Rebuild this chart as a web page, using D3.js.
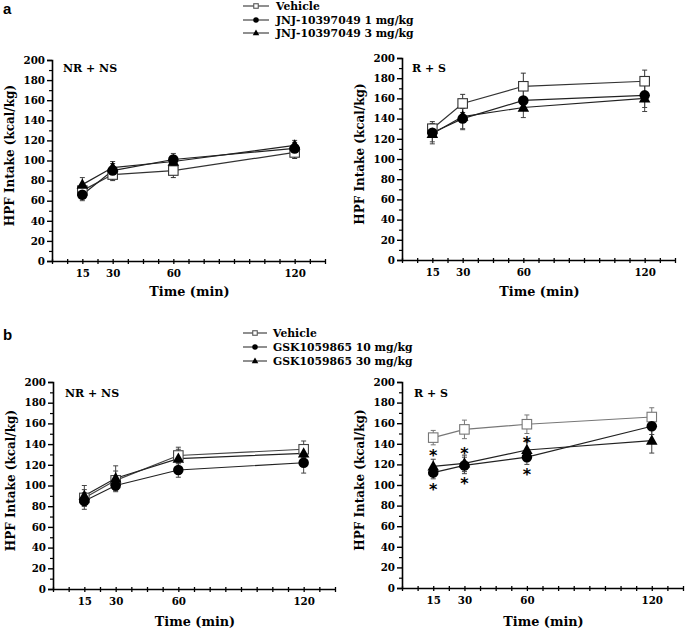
<!DOCTYPE html>
<html><head><meta charset="utf-8">
<script src="https://cdn.jsdelivr.net/npm/d3@7"></script>
<style>body{margin:0;background:#fff}svg{display:block}</style>
</head><body>
<svg id="chart" width="685" height="631"></svg>
<script>
// ---------- data ----------
const times = [15, 30, 60, 120];
const xTickLabels = [15, 30, 60, 120];
const yTicks = [0, 20, 40, 60, 80, 100, 120, 140, 160, 180, 200];

const legendA = ["Vehicle", "JNJ-10397049 1 mg/kg", "JNJ-10397049 3 mg/kg"];
const legendB = ["Vehicle", "GSK1059865 10 mg/kg", "GSK1059865 30 mg/kg"];

// panel a, NR + NS
const aNR_vehicle = [70, 86, 90, 108];
const aNR_vehicleErr = [6, 6, 7, 6];
const aNR_low = [66, 90, 101, 112];
const aNR_lowErr = [6, 7, 6, 6];
const aNR_high = [76, 93, 99, 115];
const aNR_highErr = [7, 6, 6, 5];

// panel a, R + S
const aRS_vehicle = [130, 155, 172, 177];
const aRS_vehicleErr = [7, 9, 13, 11];
const aRS_low = [126, 140, 158, 163];
const aRS_lowErr = [9, 10, 10, 12];
const aRS_high = [125, 142, 151, 160];
const aRS_highErr = [10, 13, 10, 13];

// panel b, NR + NS
const bNR_vehicle = [88, 105, 129, 135];
const bNR_vehicleErr = [8, 9, 8, 8];
const bNR_low = [85, 100, 115, 122];
const bNR_lowErr = [8, 6, 7, 10];
const bNR_high = [90, 107, 126, 131];
const bNR_highErr = [10, 12, 9, 8];

// panel b, R + S
const bRS_vehicle = [146, 154, 159, 166];
const bRS_vehicleErr = [7, 9, 9, 9];
const bRS_low = [112, 119, 127, 157];
const bRS_lowErr = [6, 8, 7, 8];
const bRS_high = [118, 121, 134, 143];
const bRS_highErr = [7, 8, 8, 12];

// significance stars (time, value)
const bRS_starTimes = [15, 15, 30, 30, 60, 60];
const bRS_starValues = [132, 99, 134, 105, 145, 114];

// ---------- drawing ----------
const svg = d3.select("#chart");
const serif = "'DejaVu Serif', serif";

const panels = [
  {x0: 52, x1: 325, yTop: 60, yBot: 261, title: "NR + NS", tx: 63, ty: 72, xlabY: 296,
   series: [[aNR_vehicle, aNR_vehicleErr], [aNR_low, aNR_lowErr], [aNR_high, aNR_highErr]], vehColor: "#333"},
  {x0: 402, x1: 675, yTop: 58, yBot: 260, title: "R + S", tx: 412, ty: 72, xlabY: 296,
   series: [[aRS_vehicle, aRS_vehicleErr], [aRS_low, aRS_lowErr], [aRS_high, aRS_highErr]], vehColor: "#333"},
  {x0: 53, x1: 335, yTop: 382, yBot: 589, title: "NR + NS", tx: 65, ty: 397, xlabY: 626,
   series: [[bNR_vehicle, bNR_vehicleErr], [bNR_low, bNR_lowErr], [bNR_high, bNR_highErr]], vehColor: "#444"},
  {x0: 402, x1: 683, yTop: 382, yBot: 588, title: "R + S", tx: 414, ty: 397, xlabY: 626,
   series: [[bRS_vehicle, bRS_vehicleErr], [bRS_low, bRS_lowErr], [bRS_high, bRS_highErr]], vehColor: "#777",
   stars: true}
];

const markerKinds = ["square", "circle", "triangle"];

function drawMarker(g, kind, cx, cy, size, stroke) {
  if (kind === "square") {
    g.append("rect").attr("x", cx - size/2).attr("y", cy - size/2)
      .attr("width", size).attr("height", size)
      .attr("fill", "#fff").attr("stroke", stroke).attr("stroke-width", 1.1);
  } else if (kind === "circle") {
    g.append("circle").attr("cx", cx).attr("cy", cy).attr("r", size/2 + 0.5).attr("fill", "#000");
  } else {
    const s = size + 2;
    const h = s * 0.9;
    g.append("path").attr("d", `M${cx},${cy - h*0.6}L${cx + s/2},${cy + h*0.4}L${cx - s/2},${cy + h*0.4}Z`)
      .attr("fill", "#000");
  }
}

panels.forEach(p => {
  const g = svg.append("g");
  const x = d3.scaleLinear().domain([0, 135]).range([p.x0, p.x1]);
  const y = d3.scaleLinear().domain([0, 200]).range([p.yBot, p.yTop]);

  // y axis
  const yAx = d3.axisLeft(y).tickValues(yTicks).tickSize(5).tickPadding(2);
  const yg = g.append("g").attr("transform", `translate(${p.x0},0)`).call(yAx);
  yg.select(".domain").attr("stroke", "#000").attr("stroke-width", 1.6);
  yg.selectAll(".tick line").attr("stroke", "#000").attr("stroke-width", 1.4);
  yg.selectAll("text").attr("font-family", serif).attr("font-weight", "bold").attr("font-size", 10.3).attr("fill", "#000");
  const yMinor = d3.axisLeft(y).tickValues(d3.range(10, 200, 20)).tickSize(3).tickFormat("");
  const ym = g.append("g").attr("transform", `translate(${p.x0},0)`).call(yMinor);
  ym.select(".domain").remove();
  ym.selectAll(".tick line").attr("stroke", "#000").attr("stroke-width", 1.2);

  // x axis
  const xAx = d3.axisBottom(x).tickValues(xTickLabels).tickSize(0).tickPadding(9);
  const xg = g.append("g").attr("transform", `translate(0,${p.yBot})`).call(xAx);
  xg.select(".domain").attr("stroke", "#000").attr("stroke-width", 1.6);
  xg.selectAll("text").attr("font-family", serif).attr("font-weight", "bold").attr("font-size", 10.3).attr("fill", "#000");
  const xMinor = d3.axisBottom(x).tickValues(d3.range(0, 135.1, 7.5)).tickSize(3).tickFormat("");
  const xm = g.append("g").attr("transform", `translate(0,${p.yBot - 2})`).call(xMinor);
  xm.select(".domain").remove();
  xm.selectAll(".tick line").attr("stroke", "#000").attr("stroke-width", 1.3).attr("y2", 5);

  // axis titles
  g.append("text").attr("x", (p.x0 + p.x1) / 2 + 1).attr("y", p.xlabY)
    .attr("text-anchor", "middle").attr("font-family", serif).attr("font-weight", "bold")
    .attr("font-size", 12.8).text("Time (min)");
  g.append("text").attr("transform", `translate(${p.x0 - 38},${(p.yTop + p.yBot) / 2 - 5}) rotate(-90)`)
    .attr("text-anchor", "middle").attr("font-family", serif).attr("font-weight", "bold")
    .attr("font-size", 12).text("HPF Intake (kcal/kg)");
  g.append("text").attr("x", p.tx).attr("y", p.ty).attr("font-family", serif).attr("font-weight", "bold")
    .attr("font-size", 11).text(p.title);

  const line = d3.line().x((d, i) => x(times[i])).y(d => y(d));

  // lines
  p.series.forEach((s, k) => {
    g.append("path").attr("d", line(s[0])).attr("fill", "none")
      .attr("stroke", k === 0 ? p.vehColor : "#222").attr("stroke-width", 1.2);
  });
  // error bars
  p.series.forEach((s, k) => {
    const col = k === 0 ? p.vehColor : "#444";
    s[0].forEach((v, i) => {
      const cx = x(times[i]);
      const e = s[1][i];
      g.append("line").attr("x1", cx).attr("x2", cx).attr("y1", y(v - e)).attr("y2", y(v + e))
        .attr("stroke", col).attr("stroke-width", 1);
      [v - e, v + e].forEach(b => {
        g.append("line").attr("x1", cx - 2.5).attr("x2", cx + 2.5).attr("y1", y(b)).attr("y2", y(b))
          .attr("stroke", col).attr("stroke-width", 1);
      });
    });
  });
  // markers
  p.series.forEach((s, k) => {
    s[0].forEach((v, i) => {
      drawMarker(g, markerKinds[k], x(times[i]), y(v), 9.5, k === 0 ? p.vehColor : "#000");
    });
  });

  if (p.stars) {
    bRS_starTimes.forEach((t, i) => {
      g.append("text").attr("x", x(t)).attr("y", y(bRS_starValues[i]) + 9)
        .attr("text-anchor", "middle").attr("font-family", "'DejaVu Sans', sans-serif")
        .attr("font-weight", "bold").attr("font-size", 16).text("*");
    });
  }
});

// legends
function legend(labels, lx0, lx1, tx, ys) {
  const g = svg.append("g");
  labels.forEach((lab, k) => {
    const yy = ys[k];
    g.append("line").attr("x1", lx0).attr("x2", lx1).attr("y1", yy).attr("y2", yy)
      .attr("stroke", "#333").attr("stroke-width", 1.1);
    drawMarker(g, markerKinds[k], (lx0 + lx1) / 2, yy, 4.5, "#555");
    g.append("text").attr("x", tx).attr("y", yy + 4).attr("font-family", serif)
      .attr("font-weight", "bold").attr("font-size", 10.8).text(lab);
  });
}
legend(legendA, 243, 269, 276, [6, 20, 33]);
legend(legendB, 243, 267, 273, [333, 347, 361]);

// panel letters
svg.append("text").attr("x", 3).attr("y", 14).attr("font-family", "'Liberation Sans', Arial, sans-serif")
  .attr("font-weight", "bold").attr("font-size", 15).text("a");
svg.append("text").attr("x", 3).attr("y", 340).attr("font-family", "'Liberation Sans', Arial, sans-serif")
  .attr("font-weight", "bold").attr("font-size", 15).text("b");
</script>
</body></html>
